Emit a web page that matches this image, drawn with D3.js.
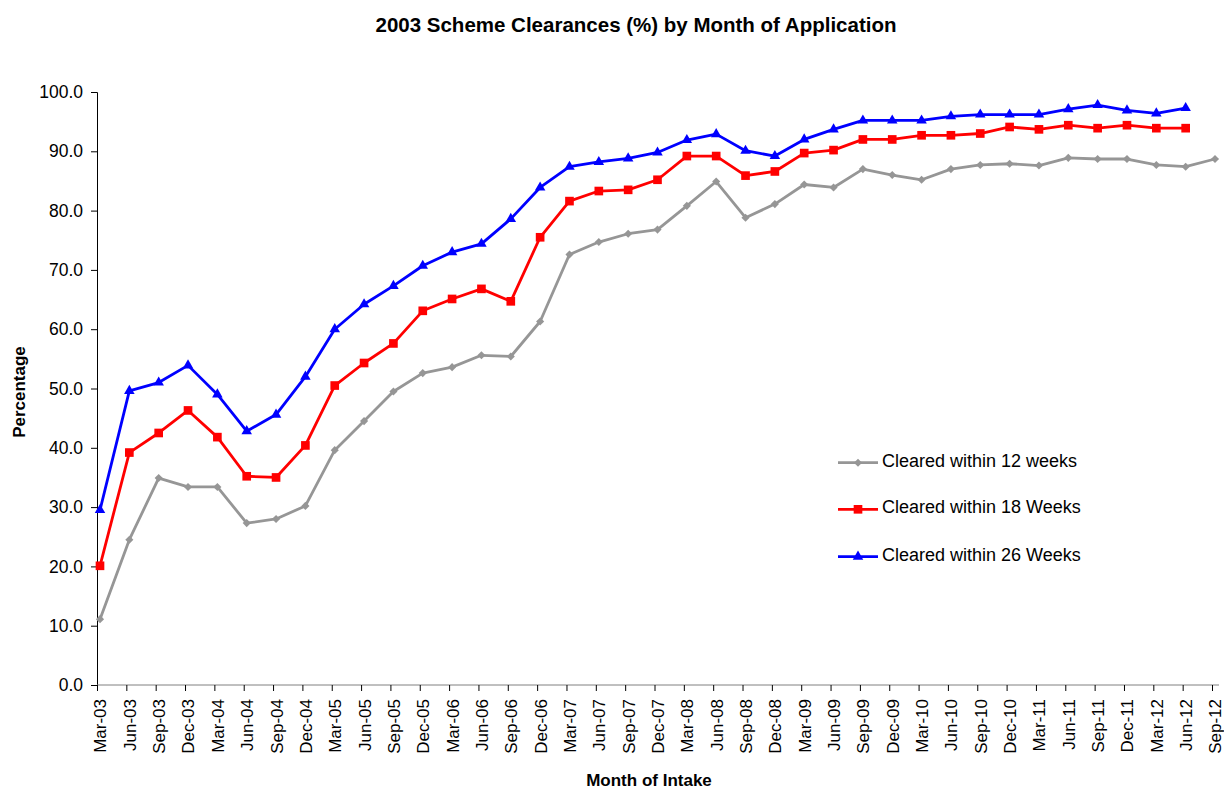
<!DOCTYPE html>
<html>
<head>
<meta charset="utf-8">
<script src="https://cdn.jsdelivr.net/npm/d3@7"></script>
<style>
  body { margin: 0; background: #fff; }
  svg { display: block; font-family: "Liberation Sans", Arial, sans-serif; }
</style>
</head>
<body>
<svg id="chart" width="1224" height="789"></svg>
<script>
const categories = ["Mar-03","Jun-03","Sep-03","Dec-03","Mar-04","Jun-04","Sep-04","Dec-04",
  "Mar-05","Jun-05","Sep-05","Dec-05","Mar-06","Jun-06","Sep-06","Dec-06",
  "Mar-07","Jun-07","Sep-07","Dec-07","Mar-08","Jun-08","Sep-08","Dec-08",
  "Mar-09","Jun-09","Sep-09","Dec-09","Mar-10","Jun-10","Sep-10","Dec-10",
  "Mar-11","Jun-11","Sep-11","Dec-11","Mar-12","Jun-12","Sep-12"];

const within12 = [11.1,24.5,34.9,33.4,33.4,27.3,28.0,30.2,
  39.6,44.5,49.5,52.6,53.6,55.6,55.4,61.3,
  72.6,74.7,76.1,76.8,80.8,84.9,78.8,81.1,
  84.4,83.9,87.0,86.0,85.2,87.0,87.7,87.9,
  87.6,88.9,88.7,88.7,87.7,87.4,88.7];

const within18 = [20.1,39.2,42.5,46.3,41.8,35.2,35.0,40.4,
  50.5,54.3,57.6,63.1,65.1,66.8,64.7,75.5,
  81.6,83.3,83.5,85.2,89.2,89.2,85.9,86.6,
  89.7,90.2,92.0,92.0,92.7,92.7,93.0,94.1,
  93.7,94.4,93.9,94.4,93.9,93.9,null];

const within26 = [29.5,49.6,51.0,53.9,49.0,42.8,45.6,52.0,
  60.0,64.2,67.3,70.7,73.0,74.4,78.6,83.9,
  87.4,88.2,88.8,89.8,91.9,92.9,90.1,89.2,
  92.0,93.7,95.2,95.2,95.2,95.9,96.2,96.2,
  96.2,97.1,97.8,96.9,96.4,97.3,null];

const yTicks = [0,10,20,30,40,50,60,70,80,90,100];

const seriesNames = ["Cleared within 12 weeks","Cleared within 18 Weeks","Cleared within 26 Weeks"];
const seriesColors = ["#969696","#FF0000","#0000FF"];
const seriesValues = [within12, within18, within26];
const seriesShapes = [d3.symbolDiamond2, d3.symbolSquare, d3.symbolTriangle];

const svg = d3.select("#chart");
const plotLeft = 97, plotRight = 1219, plotTop = 92, plotBottom = 685;

const x = d3.scalePoint().domain(categories).range([100, 1215]);
const y = d3.scaleLinear().domain([0, 100]).range([plotBottom, plotTop]);

// Title
svg.append("text").attr("x", 636).attr("y", 32).attr("text-anchor", "middle")
  .attr("font-size", 20.5).attr("font-weight", "bold").text("2003 Scheme Clearances (%) by Month of Application");

// Y axis
const yAxis = svg.append("g").attr("transform", `translate(${plotLeft},0)`)
  .call(d3.axisLeft(y).tickValues(yTicks).tickFormat(d3.format(".1f")).tickSizeOuter(0).tickSize(6));
yAxis.select(".domain").attr("stroke", "#000");
yAxis.selectAll("text").attr("font-size", 17.5).attr("fill", "#000")
  .attr("font-family", "Liberation Sans, Arial, sans-serif").attr("x", -14);

// X axis
const xAxis = svg.append("g").attr("transform", `translate(0,${plotBottom})`)
  .call(d3.axisBottom(x).tickSize(6).tickSizeOuter(0));
xAxis.select(".domain").attr("d", `M${plotLeft},0H${plotRight}`).attr("stroke", "#808080");
xAxis.selectAll(".tick line").attr("stroke", "#000").attr("transform", "translate(-3,0)");
xAxis.selectAll("text")
  .attr("font-size", 17).attr("fill", "#000").attr("font-family", "Liberation Sans, Arial, sans-serif")
  .attr("transform", "rotate(-90)")
  .attr("x", -14).attr("y", 0).attr("dy", "0.35em")
  .attr("text-anchor", "end");

// Axis titles
svg.append("text").attr("transform", "translate(24.5,392) rotate(-90)").attr("text-anchor", "middle")
  .attr("font-size", 17).attr("font-weight", "bold").text("Percentage");
svg.append("text").attr("x", 649).attr("y", 786).attr("text-anchor", "middle")
  .attr("font-size", 17).attr("font-weight", "bold").text("Month of Intake");

// Series
const line = d3.line().defined(d => d.v != null).x(d => x(d.c)).y(d => y(d.v));
const symSizes = [42, 75, 48];
seriesValues.forEach((vals, i) => {
  const data = categories.map((c, j) => ({c, v: vals[j]}));
  svg.append("path").datum(data).attr("d", line).attr("fill", "none")
    .attr("stroke", seriesColors[i]).attr("stroke-width", 2.8).attr("stroke-linejoin", "round");
  svg.append("g").selectAll("path").data(data.filter(d => d.v != null)).join("path")
    .attr("transform", d => `translate(${x(d.c)},${y(d.v)})`)
    .attr("d", d3.symbol().type(seriesShapes[i]).size(symSizes[i]))
    .attr("fill", seriesColors[i]);
});

// Legend
const legY = [462.7, 509.3, 556.7];
seriesNames.forEach((name, i) => {
  const g = svg.append("g").attr("transform", `translate(838,${legY[i]})`);
  g.append("line").attr("x1", 0).attr("x2", 40).attr("y1", 0).attr("y2", 0)
    .attr("stroke", seriesColors[i]).attr("stroke-width", 2.8);
  g.append("path").attr("transform", "translate(20,0)")
    .attr("d", d3.symbol().type(seriesShapes[i]).size(symSizes[i]))
    .attr("fill", seriesColors[i]);
  g.append("text").attr("x", 44).attr("y", 4)
    .attr("font-size", 18).attr("fill", "#000").text(name);
});
</script>
</body>
</html>
